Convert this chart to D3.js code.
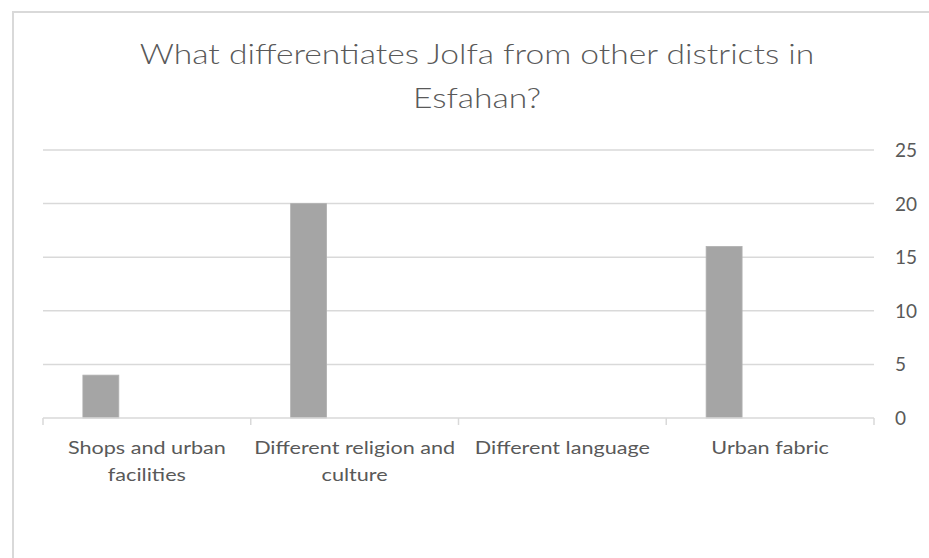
<!DOCTYPE html>
<html><head><meta charset="utf-8">
<script src="https://cdn.jsdelivr.net/npm/d3@7"></script>
<style>body{margin:0;background:#fff}</style>
</head><body>
<svg id="c" width="929" height="558"></svg>
<script>
const categories = ["Shops and urban facilities", "Different religion and culture", "Different language", "Urban fabric"];
const labelLines = [["Shops and urban", "facilities"], ["Different religion and", "culture"], ["Different language"], ["Urban fabric"]];
const values = [4, 20, 0, 16];
const yTicks = [0, 5, 10, 15, 20, 25];
const titleLines = ["What differentiates Jolfa from other districts in", "Esfahan?"];

const svg = d3.select("#c");
svg.append("rect").attr("x", 13).attr("y", 12).attr("width", 929).attr("height", 560)
  .attr("fill", "#fff").attr("stroke", "#d9d9d9").attr("stroke-width", 2);

const x = d3.scaleBand().domain(categories).range([43, 874]).padding(0);
const y = d3.scaleLinear().domain([0, 25]).range([418, 150]);

// gridlines
svg.append("g").selectAll("line").data(yTicks.filter(t => t > 0)).join("line")
  .attr("x1", 43).attr("x2", 874).attr("y1", d => y(d)).attr("y2", d => y(d))
  .attr("stroke", "#d9d9d9").attr("stroke-width", 1.5);

// bars
const bw = x.bandwidth();
svg.append("g").selectAll("rect").data(values).join("rect")
  .attr("x", (d, i) => x(categories[i]) + bw * 0.192)
  .attr("width", bw * 0.173)
  .attr("y", d => y(d)).attr("height", d => y(0) - y(d))
  .attr("fill", "#a5a5a5").attr("stroke", "#b0b0b0").attr("stroke-width", 0.8);

// x axis
const xAxis = svg.append("g").attr("transform", `translate(0,${y(0)})`);
xAxis.append("line").attr("x1", 43).attr("x2", 874).attr("stroke", "#d9d9d9").attr("stroke-width", 1.5);
const edges = categories.map(c => x(c)).concat([x.range()[1]]);
xAxis.selectAll("line.tick").data(edges).join("line").attr("class", "tick")
  .attr("x1", d => d).attr("x2", d => d).attr("y1", 0).attr("y2", 7)
  .attr("stroke", "#d9d9d9").attr("stroke-width", 1.5);

const stretch = 1.2;
labelLines.forEach((lines, i) => {
  const g = svg.append("g").attr("transform", `translate(${x(categories[i]) + bw / 2},454) scale(${stretch},1)`);
  const t = g.append("text").attr("x", 0).attr("y", 0)
    .attr("font-family", "Lato").attr("font-size", 18).attr("fill", "#595959").attr("text-anchor", "middle");
  lines.forEach((l, j) => t.append("tspan").attr("x", 0).attr("dy", j ? 27 : 0).text(l));
});

// y axis labels on right
svg.append("g").selectAll("text").data(yTicks).join("text")
  .attr("x", 895).attr("y", d => y(d) + 7)
  .attr("font-family", "Lato").attr("font-size", 19).attr("fill", "#595959")
  .text(d => d);

// title
titleLines.forEach((line, i) => {
  svg.append("g").attr("transform", `translate(477,${64 + i * 44}) scale(${stretch},1)`)
    .append("text").attr("x", 0).attr("y", 0)
    .attr("text-anchor", "middle").attr("font-family", "Lato").attr("font-weight", 300)
    .attr("font-size", 28).attr("fill", "#595959").text(line);
});
</script>
</body></html>
